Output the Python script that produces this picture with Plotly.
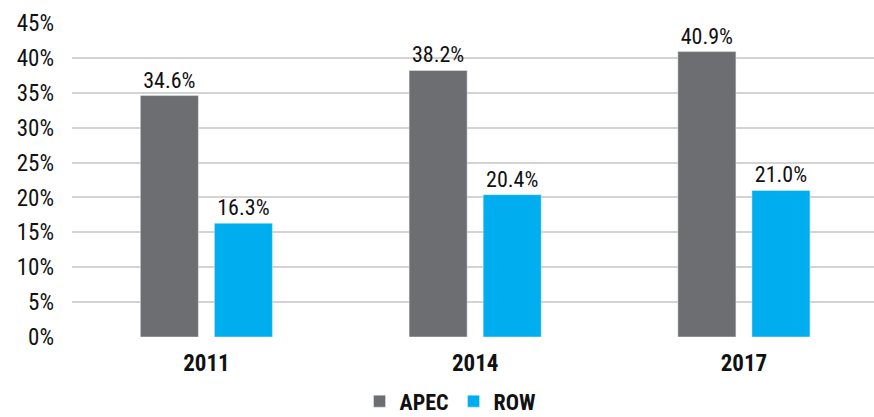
import plotly.graph_objects as go

years = ["2011", "2014", "2017"]
apec = [34.6, 38.2, 40.9]
row = [16.3, 20.4, 21.0]
y_ticks = [0, 5, 10, 15, 20, 25, 30, 35, 40, 45]
y_tick_labels = [f"{v}%" for v in y_ticks]

FONT = "Liberation Sans Narrow, Roboto Condensed, Arial Narrow, Roboto, sans-serif"
GRAY = "#6d6e71"
BLUE = "#00aeef"

fig = go.Figure()
fig.add_trace(go.Bar(
    name="APEC", x=years, y=apec, marker_color=GRAY,
    texttemplate="%{y:.1f}%", textposition="outside",
    textfont=dict(size=22, color="#111111", family=FONT), cliponaxis=False,
))
fig.add_trace(go.Bar(
    name="ROW", x=years, y=row, marker_color=BLUE,
    texttemplate="%{y:.1f}%", textposition="outside",
    textfont=dict(size=22, color="#111111", family=FONT), cliponaxis=False,
))

fig.update_layout(
    width=874, height=417,
    margin=dict(l=72, r=0, t=23, b=80, autoexpand=False),
    paper_bgcolor="white", plot_bgcolor="white",
    barmode="group", bargap=0.449, bargroupgap=0.216,
    font=dict(family=FONT, size=22, color="#111111"),
    showlegend=True,
    legend=dict(
        orientation="h", x=0.472, xanchor="center", y=-0.205, yanchor="middle",
        font=dict(size=22, family=FONT, color="#111111", weight="bold"),
        itemwidth=30, tracegroupgap=0,
    ),
    xaxis=dict(
        type="category", range=[-0.5, 2.484], automargin=False,
        showgrid=False, showline=False, zeroline=False,
        ticks="", tickfont=dict(size=23, family=FONT, color="#111111", weight="bold"),
        ticklabelstandoff=10,
    ),
    yaxis=dict(
        range=[0, 45], tickvals=y_ticks, ticktext=y_tick_labels, automargin=False,
        showgrid=True, gridcolor="#d3d3d3", gridwidth=2,
        zeroline=False, showline=False, ticks="",
        tickfont=dict(size=23, family=FONT, color="#111111"),
        ticklabelstandoff=17,
    ),
)

fig.write_html(
    "out.html",
    config={"displayModeBar": False},
    post_script="document.body.style.margin='0';document.body.style.overflow='hidden';",
)
